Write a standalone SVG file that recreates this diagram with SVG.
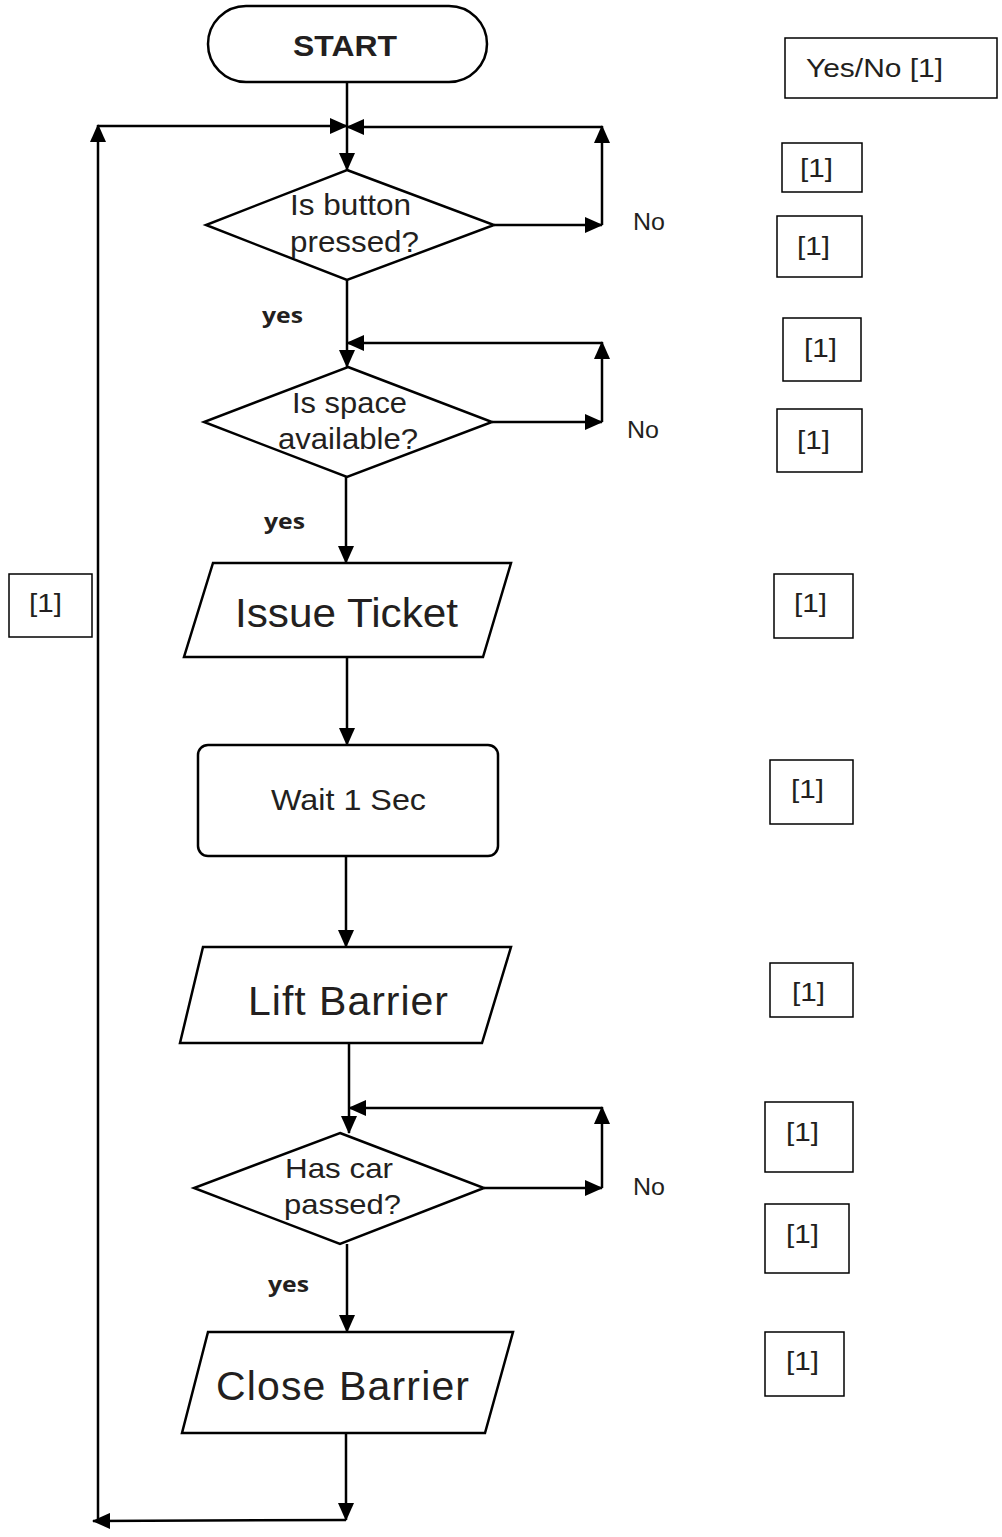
<svg xmlns="http://www.w3.org/2000/svg" width="1002" height="1537" viewBox="0 0 1002 1537">
  <defs>
    <marker id="arrow" viewBox="0 0 18 16" refX="17" refY="8" markerWidth="18" markerHeight="16" markerUnits="userSpaceOnUse" orient="auto">
      <path d="M0,0 L18,8 L0,16 Z" fill="#000"/>
    </marker>
  </defs>
  <style>
    .shape { fill: #fff; stroke: #000; stroke-width: 2.5; }
    .box { fill: #fff; stroke: #000; stroke-width: 1.5; }
    .line { fill: none; stroke: #000; stroke-width: 2.5; }
    .arr { marker-end: url(#arrow); }
    .t { font-family: "Liberation Sans", Arial, sans-serif; fill: #231f20; }
    .lbl { font-family: "Open Sans", "Liberation Sans", sans-serif; font-weight: bold; font-size: 22px; fill: #231f20; }
  </style>
  <rect width="1002" height="1537" fill="#fff"/>

  <!-- connectors -->
  <g id="connectors">
    <line class="line arr" x1="347" y1="82" x2="347" y2="170"/>
    <line class="line arr" x1="98" y1="1521" x2="98" y2="125"/>
    <line class="line arr" x1="98" y1="126" x2="347" y2="126"/>
    <polyline class="line arr" points="494,225 602,225"/>
    <polyline class="line arr" points="602,225 602,126"/>
    <polyline class="line arr" points="602,127 347,127"/>

    <line class="line arr" x1="347" y1="280" x2="347" y2="367"/>
    <polyline class="line arr" points="492,422 602,422"/>
    <polyline class="line arr" points="602,422 602,342"/>
    <polyline class="line arr" points="602,343 347,343"/>

    <line class="line arr" x1="346" y1="477" x2="346" y2="563"/>
    <line class="line arr" x1="347" y1="657" x2="347" y2="745"/>
    <line class="line arr" x1="346" y1="856" x2="346" y2="947"/>

    <line class="line arr" x1="349" y1="1043" x2="349" y2="1133"/>
    <polyline class="line arr" points="484,1188 602,1188"/>
    <polyline class="line arr" points="602,1188 602,1107"/>
    <polyline class="line arr" points="602,1108 349,1108"/>

    <line class="line arr" x1="347" y1="1244" x2="347" y2="1332"/>
    <line class="line arr" x1="346" y1="1433" x2="346" y2="1520"/>
    <line class="line arr" x1="346" y1="1520" x2="93" y2="1521"/>

    <text class="t" x="633" y="230" font-size="23" textLength="32" lengthAdjust="spacingAndGlyphs">No</text>
    <text class="t" x="627" y="438" font-size="23" textLength="32" lengthAdjust="spacingAndGlyphs">No</text>
    <text class="t" x="633" y="1195" font-size="23" textLength="32" lengthAdjust="spacingAndGlyphs">No</text>
    <text class="lbl" x="262" y="323" textLength="41" lengthAdjust="spacingAndGlyphs">yes</text>
    <text class="lbl" x="264" y="529" textLength="41" lengthAdjust="spacingAndGlyphs">yes</text>
    <text class="lbl" x="268" y="1292" textLength="41" lengthAdjust="spacingAndGlyphs">yes</text>
  </g>

  <!-- flow nodes -->
  <g id="start">
    <rect class="shape" x="208" y="6" width="279" height="76" rx="38" ry="38"/>
    <text class="t" x="293" y="56" font-size="29" font-weight="bold" textLength="104" lengthAdjust="spacingAndGlyphs">START</text>
  </g>
  <g id="button-pressed">
    <polygon class="shape" points="347,170 494,225 347,280 206,225"/>
    <text class="t" x="290" y="215" font-size="29" textLength="121" lengthAdjust="spacingAndGlyphs">Is button</text>
    <text class="t" x="290" y="252" font-size="29" textLength="129" lengthAdjust="spacingAndGlyphs">pressed?</text>
  </g>
  <g id="space-available">
    <polygon class="shape" points="348,367 492,422 347,477 204,422"/>
    <text class="t" x="292" y="413" font-size="29" textLength="115" lengthAdjust="spacingAndGlyphs">Is space</text>
    <text class="t" x="278" y="449" font-size="29" textLength="140" lengthAdjust="spacingAndGlyphs">available?</text>
  </g>
  <g id="issue-ticket">
    <polygon class="shape" points="213,563 511,563 483,657 184,657"/>
    <text class="t" x="235" y="627" font-size="41" textLength="223" lengthAdjust="spacingAndGlyphs">Issue Ticket</text>
  </g>
  <g id="wait">
    <rect class="shape" x="198" y="745" width="300" height="111" rx="10" ry="10"/>
    <text class="t" x="271" y="810" font-size="30" textLength="155" lengthAdjust="spacingAndGlyphs">Wait 1 Sec</text>
  </g>
  <g id="lift-barrier">
    <polygon class="shape" points="203,947 511,947 482,1043 180,1043"/>
    <text class="t" x="248" y="1015" font-size="41" textLength="200" lengthAdjust="spacing">Lift  Barrier</text>
  </g>
  <g id="car-passed">
    <polygon class="shape" points="340,1133 484,1188 340,1244 194,1188"/>
    <text class="t" x="285" y="1178" font-size="28" textLength="108" lengthAdjust="spacingAndGlyphs">Has car</text>
    <text class="t" x="284" y="1214" font-size="28" textLength="117" lengthAdjust="spacingAndGlyphs">passed?</text>
  </g>
  <g id="close-barrier">
    <polygon class="shape" points="208,1332 513,1332 485,1433 182,1433"/>
    <text class="t" x="216" y="1400" font-size="41" textLength="253" lengthAdjust="spacing">Close  Barrier</text>
  </g>

  <!-- mark boxes -->
  <g id="marks">
    <rect class="box" x="785" y="38" width="212" height="60"/>
    <text class="t" x="806" y="77" font-size="25" textLength="137" lengthAdjust="spacingAndGlyphs">Yes/No [1]</text>
    <rect class="box" x="782" y="143" width="80" height="49"/>
    <text class="t" x="800" y="177" font-size="26" textLength="33" lengthAdjust="spacingAndGlyphs">[1]</text>
    <rect class="box" x="777" y="216" width="85" height="61"/>
    <text class="t" x="797" y="255" font-size="26" textLength="33" lengthAdjust="spacingAndGlyphs">[1]</text>
    <rect class="box" x="783" y="318" width="78" height="63"/>
    <text class="t" x="804" y="357" font-size="26" textLength="33" lengthAdjust="spacingAndGlyphs">[1]</text>
    <rect class="box" x="777" y="409" width="85" height="63"/>
    <text class="t" x="797" y="449" font-size="26" textLength="33" lengthAdjust="spacingAndGlyphs">[1]</text>
    <rect class="box" x="774" y="574" width="79" height="64"/>
    <text class="t" x="794" y="612" font-size="26" textLength="33" lengthAdjust="spacingAndGlyphs">[1]</text>
    <rect class="box" x="770" y="760" width="83" height="64"/>
    <text class="t" x="791" y="798" font-size="26" textLength="33" lengthAdjust="spacingAndGlyphs">[1]</text>
    <rect class="box" x="770" y="963" width="83" height="54"/>
    <text class="t" x="792" y="1001" font-size="26" textLength="33" lengthAdjust="spacingAndGlyphs">[1]</text>
    <rect class="box" x="765" y="1102" width="88" height="70"/>
    <text class="t" x="786" y="1141" font-size="26" textLength="33" lengthAdjust="spacingAndGlyphs">[1]</text>
    <rect class="box" x="765" y="1204" width="84" height="69"/>
    <text class="t" x="786" y="1243" font-size="26" textLength="33" lengthAdjust="spacingAndGlyphs">[1]</text>
    <rect class="box" x="765" y="1332" width="79" height="64"/>
    <text class="t" x="786" y="1370" font-size="26" textLength="33" lengthAdjust="spacingAndGlyphs">[1]</text>
    <rect class="box" x="9" y="574" width="83" height="63"/>
    <text class="t" x="29" y="612" font-size="26" textLength="33" lengthAdjust="spacingAndGlyphs">[1]</text>
  </g>
</svg>
